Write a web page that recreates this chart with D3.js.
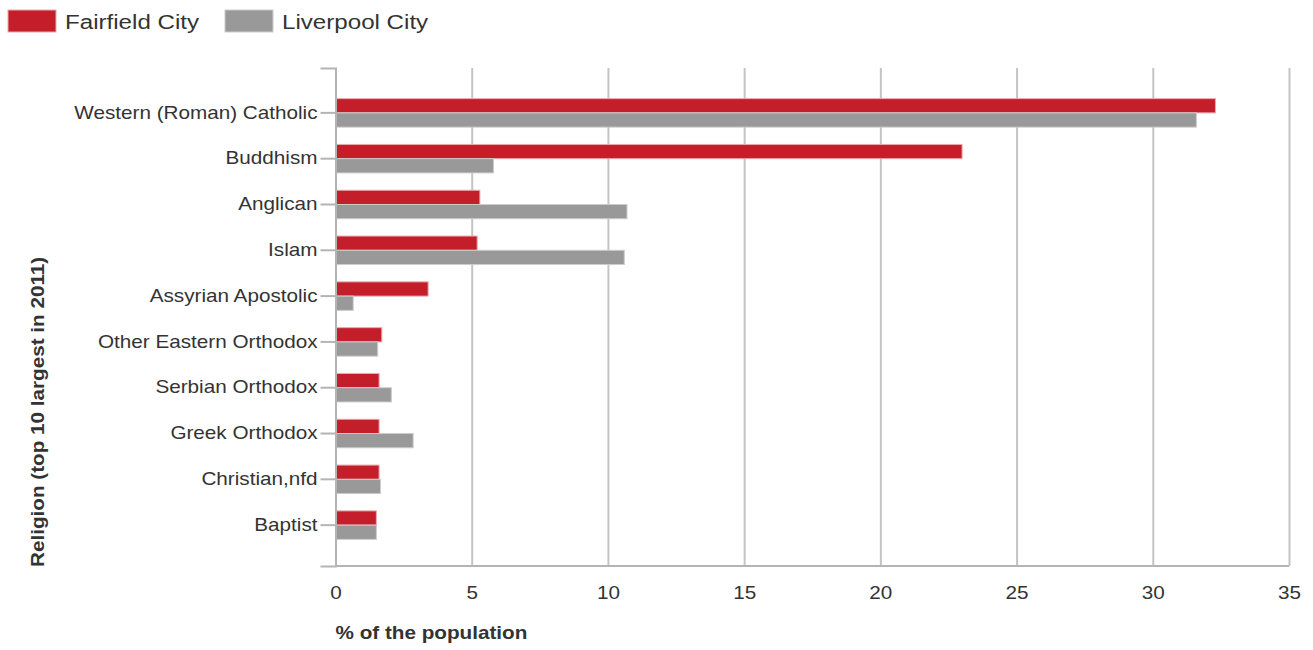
<!DOCTYPE html>
<html>
<head>
<meta charset="utf-8">
<script src="https://cdn.jsdelivr.net/npm/d3@7"></script>
<style>
    body { margin: 0; background: #fff; }
    text { font-family: "Liberation Sans", Arial, sans-serif; fill: #333; }
</style>
</head>
<body>
<div id="chart"></div>
<script>
"use strict";

// religions, largest first
const religions = [
    "Western (Roman) Catholic", "Buddhism", "Anglican", "Islam", "Assyrian Apostolic",
    "Other Eastern Orthodox", "Serbian Orthodox", "Greek Orthodox", "Christian,nfd", "Baptist"
];
const seriesNames = ["Fairfield City", "Liverpool City"];
const fairfield = [32.3, 23.0, 5.3, 5.2, 3.4, 1.7, 1.6, 1.6, 1.6, 1.5];
const liverpool = [31.6, 5.8, 10.7, 10.6, 0.65, 1.55, 2.05, 2.85, 1.65, 1.5];
const xTicks = [0, 5, 10, 15, 20, 25, 30, 35];

const msm = {
    width: 1313,
    height: 650,
    left: 335.5,
    right: 1289,
    top: 68,
    bottom: 566
}
const colors = ["#c41e2b", "#999999"];
const strokes = ["#eba9ae", "#cccccc"];
// the text in the picture runs wider than Liberation Sans
const stretch = 1.15;

let svg = d3.select("#chart")
    .append("svg")
    .attr("width", msm.width)
    .attr("height", msm.height);

let xScale = d3.scaleLinear()
    .domain([0, 35])
    .range([msm.left, msm.right]);

let yScale = d3.scaleBand()
    .domain(religions)
    .range([msm.top, msm.bottom])
    .paddingInner(0.378)
    .paddingOuter(0.625)
    .align(0.535);

let sub = d3.scaleBand()
    .domain(seriesNames)
    .range([0, yScale.bandwidth()]);

// gridlines from the x axis
let xAxis = d3.axisBottom(xScale)
    .tickValues(xTicks)
    .tickSize(-(msm.bottom - msm.top))
    .tickSizeOuter(0)
    .tickPadding(20);

let gx = svg.append("g")
    .attr("transform", "translate(0," + msm.bottom + ")")
    .call(xAxis);
gx.select(".domain").remove();
gx.selectAll(".tick line")
    .attr("stroke", "#c4c4c4")
    .attr("stroke-width", 2);
gx.selectAll(".tick text")
    .attr("transform", "scale(" + stretch + ",1)")
    .style("font-size", "18px")
    .style("fill", "#333");

// bars
let rows = religions.map((r, i) => ({ name: r, values: [fairfield[i], liverpool[i]] }));

let groups = svg.selectAll(".grp")
    .data(rows)
    .enter()
    .append("g")
    .attr("transform", (d) => "translate(0," + yScale(d.name) + ")");

groups.selectAll("rect")
    .data((d) => d.values.map((v, j) => ({ series: seriesNames[j], value: v, j: j })))
    .enter()
    .append("rect")
    .attr("x", xScale(0))
    .attr("y", (d) => sub(d.series))
    .attr("width", (d) => xScale(d.value) - xScale(0))
    .attr("height", sub.bandwidth())
    .attr("fill", (d) => colors[d.j])
    .attr("stroke", (d) => strokes[d.j])
    .attr("stroke-width", 1);

// y axis
let yAxis = d3.axisLeft(yScale)
    .tickSize(15)
    .tickSizeOuter(15)
    .tickPadding(3);

let gy = svg.append("g")
    .attr("transform", "translate(" + msm.left + ",0)")
    .call(yAxis);
gy.select(".domain")
    .attr("stroke", "#b4b4b4")
    .attr("stroke-width", 2);
gy.selectAll(".tick line")
    .attr("stroke", "#b4b4b4")
    .attr("stroke-width", 2);
gy.selectAll(".tick text")
    .attr("x", -18 / stretch)
    .attr("transform", "scale(" + stretch + ",1)")
    .style("font-size", "18px")
    .style("fill", "#333");

// x axis baseline
svg.append("line")
    .attr("x1", msm.left)
    .attr("x2", msm.right)
    .attr("y1", msm.bottom)
    .attr("y2", msm.bottom)
    .attr("stroke", "#b4b4b4")
    .attr("stroke-width", 2);

// axis titles
svg.append("text")
    .attr("transform", "translate(" + msm.left + ",639) scale(" + stretch + ",1)")
    .style("font-size", "18px")
    .style("font-weight", "bold")
    .text("% of the population");

svg.append("text")
    .attr("transform", "translate(44," + (msm.bottom + 1) + ") rotate(-90) scale(" + stretch + ",1)")
    .style("font-size", "18px")
    .style("font-weight", "bold")
    .text("Religion (top 10 largest in 2011)");

// legend
let legendX = [8, 225];
let legend = svg.selectAll(".legend")
    .data(seriesNames)
    .enter()
    .append("g")
    .attr("transform", (d, i) => "translate(" + legendX[i] + ",10)");

legend.append("rect")
    .attr("width", 48)
    .attr("height", 22)
    .attr("fill", (d, i) => colors[i])
    .attr("stroke", (d, i) => strokes[i]);

legend.append("text")
    .attr("transform", "translate(57,19) scale(" + stretch + ",1)")
    .style("font-size", "21px")
    .text((d) => d);
</script>
</body>
</html>
